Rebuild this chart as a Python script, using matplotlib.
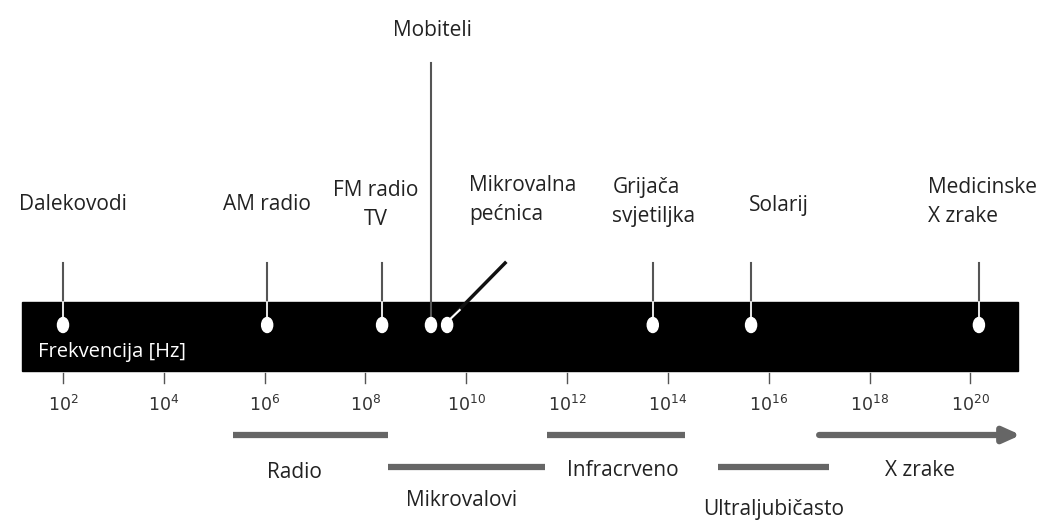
import matplotlib.pyplot as plt
from matplotlib.patches import Rectangle, Ellipse

plt.rcParams['font.family'] = ['Open Sans', 'DejaVu Sans']

# frequency exponents (log10 Hz)
tick_exp = [2, 4, 6, 8, 10, 12, 14, 16, 18, 20]

sources = ['Dalekovodi', 'AM radio', 'FM radio\nTV', 'Mobiteli', 'Mikrovalna\npećnica',
           'Grijača\nsvjetiljka', 'Solarij', 'Medicinske\nX zrake']
source_exp = [2.0, 6.05, 8.33, 9.3, 9.62, 13.7, 15.65, 20.17]

bands = ['Radio', 'Mikrovalovi', 'Infracrveno', 'Ultraljubičasto', 'X zrake']
band_start = [5.37, 8.45, 11.6, 15.0, 17.0]
band_end = [8.45, 11.56, 14.34, 17.2, 21.0]

fig = plt.figure(figsize=(10.51, 5.26), dpi=100)
ax = fig.add_axes([0, 0, 1, 1])
ax.set_xlim(0.75, 21.6)
ax.set_ylim(526, 0)
ax.axis('off')

# black spectrum bar
ax.add_patch(Rectangle((1.19, 302), 20.95 - 1.19, 69, color='black', zorder=1))
ax.text(1.5, 352, 'Frekvencija [Hz]', color='white', fontsize=14.5, va='center', ha='left', zorder=3)

# ticks below bar
for e in tick_exp:
    ax.plot([e, e], [373, 383], color='#555555', lw=1)
    ax.text(e, 405, '$10^{%d}$' % e, ha='center', va='center', fontsize=12.5, color='#333333')

# source markers
label_pos = {
    'Dalekovodi': (2.2, 205, 'center'),
    'AM radio': (6.05, 205, 'center'),
    'FM radio\nTV': (8.2, 205, 'center'),
    'Mobiteli': (9.33, 30, 'center'),
    'Mikrovalna\npećnica': (10.05, 200, 'left'),
    'Grijača\nsvjetiljka': (12.9, 202, 'left'),
    'Solarij': (16.2, 205, 'center'),
    'Medicinske\nX zrake': (19.15, 202, 'left'),
}
for name, e in zip(sources, source_exp):
    if name.startswith('Mobiteli'):
        ax.plot([e, e], [63, 322], color='#555555', lw=1.5, zorder=2)
    elif name.startswith('Mikrovalna'):
        ax.plot([e, e + 1.15], [322, 263], color='#111111', lw=2.5, zorder=2)
        ax.plot([e, e + 0.25], [322, 310], color='white', lw=1.5, zorder=2)
    else:
        ax.plot([e, e], [263, 322], color='#555555', lw=1.5, zorder=2)
        ax.plot([e, e], [302, 322], color='white', lw=1.2, zorder=2)
    ax.add_patch(Ellipse((e, 325), 0.22, 15, color='white', zorder=3))
    lx, ly, ha = label_pos[name]
    ax.text(lx, ly, name, ha=ha, va='center', fontsize=15, color='#222222', linespacing=1.45)

# band ranges
band_y = [435, 467, 435, 467, 435]
band_lab = [(6.6, 473), (9.9, 500), (13.1, 470), (16.1, 510), (19.0, 470)]
for name, s, t, y, (lx, ly) in zip(bands, band_start, band_end, band_y, band_lab):
    if name == 'X zrake':
        ax.annotate('', xy=(t, y), xytext=(s, y),
                    arrowprops=dict(arrowstyle='-|>,head_width=0.45,head_length=1.0',
                                    color='#666666', lw=4.5, shrinkA=0, shrinkB=0))
    else:
        ax.plot([s, t], [y, y], color='#666666', lw=4.5, solid_capstyle='butt')
    ax.text(lx, ly, name, ha='center', va='center', fontsize=15, color='#222222')

plt.savefig('out.png', dpi=100)
